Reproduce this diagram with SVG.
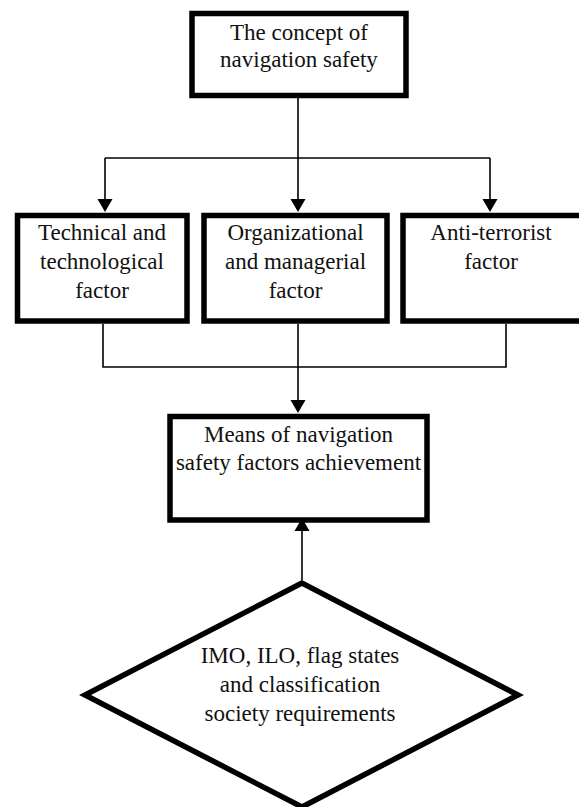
<svg xmlns="http://www.w3.org/2000/svg" width="579" height="807" viewBox="0 0 579 807">
<style>
.box{fill:#fff;stroke:#000;stroke-width:5.5}
.ln{fill:none;stroke:#000;stroke-width:1.6}
.ah{fill:#000;stroke:none}
text{font-family:"Liberation Serif","Times New Roman",serif;font-size:23px;fill:#111;text-anchor:middle}
</style>
<rect width="579" height="807" fill="#fff"/>
<g id="connectors">
<path class="ln" d="M298,98 V200"/>
<path class="ln" d="M105,158 H490"/>
<path class="ln" d="M105,158 V200"/>
<path class="ln" d="M490,158 V200"/>
<polygon class="ah" points="97.5,199 112.5,199 105,212"/>
<polygon class="ah" points="290.5,199 305.5,199 298,212"/>
<polygon class="ah" points="482.5,199 497.5,199 490,212"/>
<path class="ln" d="M103,324 V367 H506 V324"/>
<path class="ln" d="M298,324 V401"/>
<polygon class="ah" points="290.5,400 305.5,400 298,413"/>
<path class="ln" d="M302,580 V530"/>
<polygon class="ah" points="294.5,531 309.5,531 302,518"/>
</g>
<g id="node-concept">
<rect class="box" x="192" y="13.5" width="214" height="82"/>
<text x="299" y="40">The concept of</text>
<text x="299" y="67">navigation safety</text>
</g>
<g id="node-technical">
<rect class="box" x="17.5" y="215.5" width="169.5" height="105.5"/>
<text x="102" y="240">Technical and</text>
<text x="102" y="269">technological</text>
<text x="102" y="298">factor</text>
</g>
<g id="node-organizational">
<rect class="box" x="204" y="215.5" width="183" height="105.5"/>
<text x="295.5" y="240">Organizational</text>
<text x="295.5" y="269">and managerial</text>
<text x="295.5" y="298">factor</text>
</g>
<g id="node-antiterrorist">
<rect class="box" x="403" y="215.5" width="180" height="105.5"/>
<text x="491" y="240">Anti-terrorist</text>
<text x="491" y="269">factor</text>
</g>
<g id="node-means">
<rect class="box" x="170" y="416.5" width="257" height="103.5"/>
<text x="298.5" y="442">Means of navigation</text>
<text x="298.5" y="470">safety factors achievement</text>
</g>
<g id="node-requirements">
<polygon class="box" points="302,583 85,695 302,807 518,695"/>
<text x="300" y="663">IMO, ILO, flag states</text>
<text x="300" y="692">and classification</text>
<text x="300" y="721">society requirements</text>
</g>
</svg>
